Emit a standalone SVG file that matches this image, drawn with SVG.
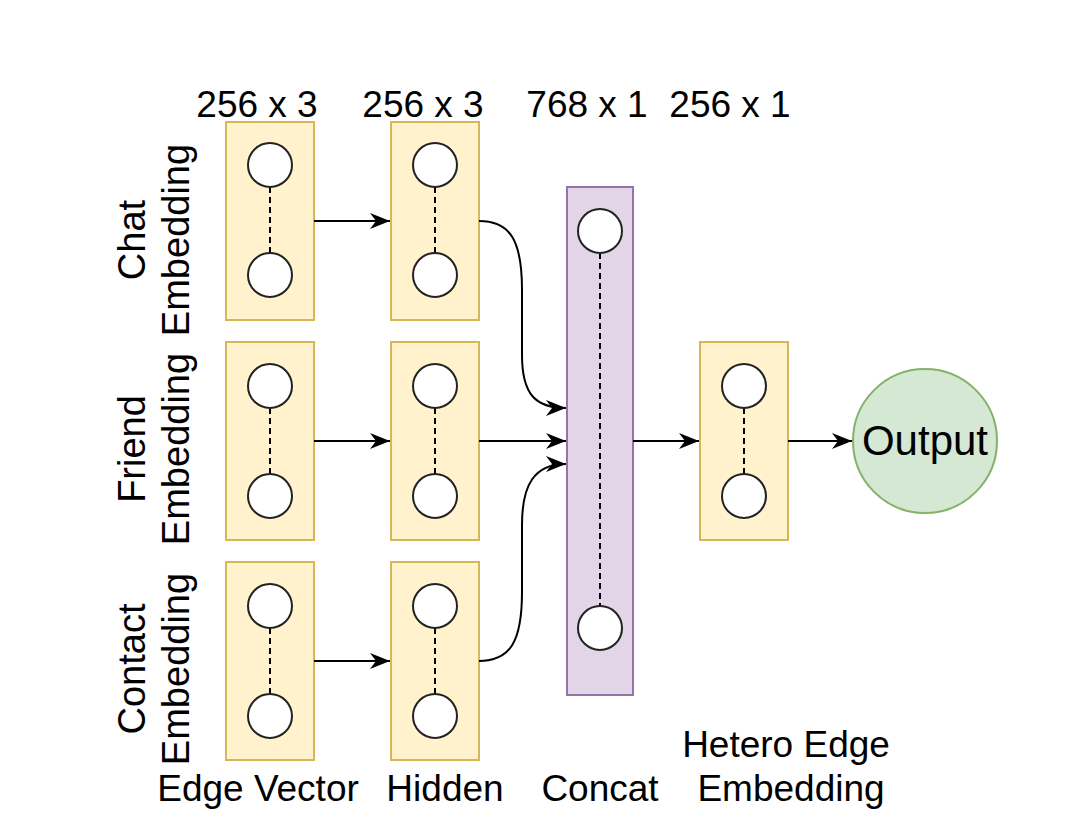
<svg xmlns="http://www.w3.org/2000/svg" width="1068" height="840" viewBox="0 0 1068 840">
<style>
.y{fill:#fff2cc;stroke:#d6b656;stroke-width:2}
.p{fill:#e1d5e7;stroke:#9673a6;stroke-width:2}
.g{fill:#d5e8d4;stroke:#82b366;stroke-width:2}
.n{fill:#ffffff;stroke:#222;stroke-width:2}
.d{stroke:#000;stroke-width:2;stroke-dasharray:6 4;fill:none}
.e{stroke:#000;stroke-width:2;fill:none;marker-end:url(#arr)}
text{font-family:"Liberation Sans",Arial,Helvetica,sans-serif;font-size:37px;fill:#000;text-anchor:middle}
</style>
<defs>
<marker id="arr" markerUnits="userSpaceOnUse" markerWidth="21" markerHeight="18" refX="20" refY="9" orient="auto">
<path d="M0,1 L20,9 L0,17 L6,9 Z" fill="#000"/>
</marker>
</defs>
<rect width="1068" height="840" fill="#fff"/>

<g id="labels-top">
<text x="257" y="117">256 x 3</text>
<text x="423" y="117">256 x 3</text>
<text x="587" y="117">768 x 1</text>
<text x="730" y="117">256 x 1</text>
</g>

<g id="labels-side">
<g transform="translate(145,240) rotate(-90)"><text x="0" y="0" style="font-size:38px">Chat</text><text x="0" y="44" style="font-size:38px">Embedding</text></g>
<g transform="translate(145,449) rotate(-90)"><text x="0" y="0" style="font-size:38px">Friend</text><text x="0" y="44" style="font-size:38px">Embedding</text></g>
<g transform="translate(145,669) rotate(-90)"><text x="0" y="0" style="font-size:38px">Contact</text><text x="0" y="44" style="font-size:38px">Embedding</text></g>
</g>

<g id="labels-bottom">
<text x="258" y="801">Edge Vector</text>
<text x="445" y="801">Hidden</text>
<text x="600" y="801">Concat</text>
<text x="786" y="757">Hetero Edge</text>
<text x="791" y="801">Embedding</text>
</g>

<g id="chat-input">
<rect class="y" x="226" y="122" width="88" height="198"/>
<line class="d" x1="270" y1="187" x2="270" y2="253"/>
<circle class="n" cx="270" cy="165" r="22"/>
<circle class="n" cx="270" cy="275" r="22"/>
</g>
<g id="chat-hidden">
<rect class="y" x="391" y="122" width="88" height="198"/>
<line class="d" x1="435" y1="187" x2="435" y2="253"/>
<circle class="n" cx="435" cy="165" r="22"/>
<circle class="n" cx="435" cy="275" r="22"/>
</g>
<g id="friend-input">
<rect class="y" x="226" y="342" width="88" height="198"/>
<line class="d" x1="270" y1="408" x2="270" y2="474"/>
<circle class="n" cx="270" cy="386" r="22"/>
<circle class="n" cx="270" cy="496" r="22"/>
</g>
<g id="friend-hidden">
<rect class="y" x="391" y="342" width="88" height="198"/>
<line class="d" x1="435" y1="408" x2="435" y2="474"/>
<circle class="n" cx="435" cy="386" r="22"/>
<circle class="n" cx="435" cy="496" r="22"/>
</g>
<g id="contact-input">
<rect class="y" x="226" y="562" width="88" height="198"/>
<line class="d" x1="270" y1="628" x2="270" y2="694"/>
<circle class="n" cx="270" cy="606" r="22"/>
<circle class="n" cx="270" cy="716" r="22"/>
</g>
<g id="contact-hidden">
<rect class="y" x="391" y="562" width="88" height="198"/>
<line class="d" x1="435" y1="628" x2="435" y2="694"/>
<circle class="n" cx="435" cy="606" r="22"/>
<circle class="n" cx="435" cy="716" r="22"/>
</g>
<g id="concat">
<rect class="p" x="567" y="187" width="66" height="508"/>
<line class="d" x1="600" y1="253" x2="600" y2="606"/>
<circle class="n" cx="600" cy="231" r="22"/>
<circle class="n" cx="600" cy="628" r="22"/>
</g>
<g id="hetero">
<rect class="y" x="700" y="342" width="88" height="198"/>
<line class="d" x1="744" y1="408" x2="744" y2="474"/>
<circle class="n" cx="744" cy="386" r="22"/>
<circle class="n" cx="744" cy="496" r="22"/>
</g>
<g id="output">
<circle class="g" cx="925" cy="441" r="72"/>
<text x="925" y="455" style="font-size:42px">Output</text>
</g>

<g id="connectors">
<line class="e" x1="314" y1="221" x2="390" y2="221"/>
<line class="e" x1="314" y1="441" x2="390" y2="441"/>
<line class="e" x1="314" y1="661" x2="390" y2="661"/>
<path class="e" d="M479,221 C510,221 522,240 522,290 L522,355 C522,395 536,408 566,408"/>
<line class="e" x1="479" y1="441" x2="566" y2="441"/>
<path class="e" d="M479,661 C510,661 522,642 522,592 L522,525 C522,485 534,464 566,464"/>
<line class="e" x1="633" y1="441" x2="699" y2="441"/>
<line class="e" x1="788" y1="441" x2="852" y2="441"/>
</g>
</svg>
